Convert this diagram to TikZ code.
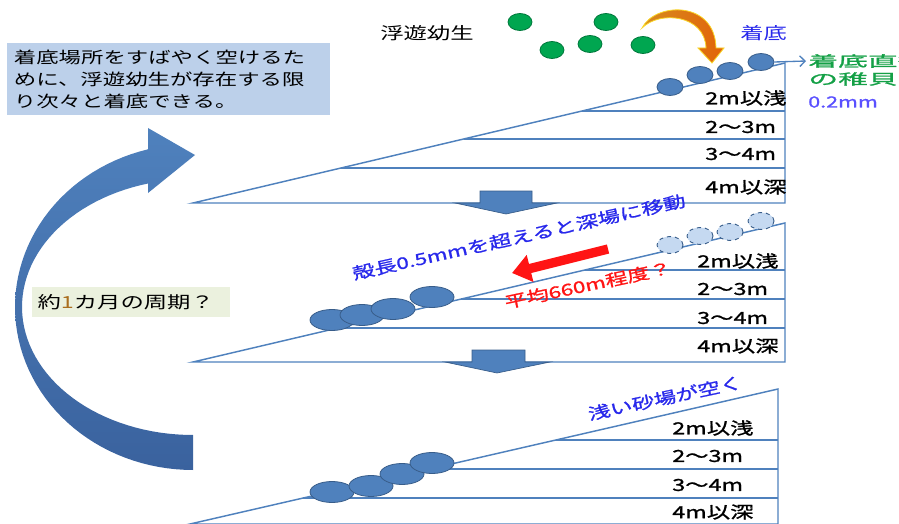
\documentclass[tikz,border=0pt]{standalone}
\usepackage{fontspec}
\newfontfamily\jp[FakeStretch=1.4]{Noto Sans CJK JP}
\newfontfamily\jpb[FakeStretch=1.4,FakeBold=1.2]{Noto Sans CJK JP}
\usetikzlibrary{arrows.meta,shapes.geometric}
\definecolor{lineblue}{RGB}{79,129,189}
\definecolor{shellfill}{RGB}{79,129,189}
\definecolor{shelledge}{RGB}{56,93,138}
\definecolor{lightshell}{RGB}{197,217,241}
\definecolor{boxblue}{RGB}{188,208,234}
\definecolor{boxgreen}{RGB}{235,241,222}
\definecolor{larvafill}{RGB}{0,166,80}
\definecolor{larvaedge}{RGB}{0,120,60}
\definecolor{txtblue}{RGB}{40,40,235}
\definecolor{txtgreen}{RGB}{20,160,70}
\definecolor{txtviolet}{RGB}{90,80,255}
\definecolor{txtred}{RGB}{255,20,20}
\definecolor{orangeA}{RGB}{214,140,30}
\definecolor{orangeB}{RGB}{226,100,10}
\definecolor{orangeedge}{RGB}{250,215,40}
\definecolor{bigtop}{RGB}{79,129,189}
\definecolor{bigbot}{RGB}{58,98,158}
\definecolor{onecol}{RGB}{170,110,30}
\begin{document}
\begin{tikzpicture}[x=0.75pt,y=-0.75pt,
  pline/.style={draw=lineblue,line width=1.1pt},
  larva/.style={ellipse,fill=larvafill,draw=larvaedge,line width=0.6pt,minimum width=18pt,minimum height=12.75pt,inner sep=0pt},
  spat/.style={ellipse,fill=shellfill,draw=shelledge,line width=0.6pt,minimum width=19.5pt,minimum height=12.75pt,inner sep=0pt},
  ghost/.style={ellipse,fill=lightshell,draw=shelledge,dashed,line width=0.7pt,minimum width=19.5pt,minimum height=12.75pt,inner sep=0pt},
  juv/.style={ellipse,fill=shellfill,draw=shelledge,line width=0.6pt,minimum width=33pt,minimum height=15.75pt,inner sep=0pt},
  depth/.style={anchor=west,inner sep=0pt,font=\jpb\fontsize{12.5}{14}\selectfont},
  downarrow/.style={fill=shellfill,draw=shelledge,line width=0.5pt},
  slanttext/.style={inner sep=0pt,font=\jpb\fontsize{12}{14}\selectfont}]
\useasboundingbox (0,0) rectangle (899,524);
\clip (0,0) rectangle (899,524);

% big cycle arrow
\shade[top color=bigtop,bottom color=bigbot]
  (193,435) -- plot[domain=90:254.8,samples=60,variable=\t] ({193+171*cos(\t)},{307+128*sin(\t)})
  -- (148,193) -- (195,155) -- (148,128) -- (148,149)
  -- plot[domain=255.3:90,samples=60,variable=\t] ({193+178*cos(\t)},{307+163*sin(\t)}) -- cycle;

% note boxes
\node[anchor=north west,fill=boxblue,minimum width=242pt,minimum height=54pt,inner xsep=5pt,inner ysep=3pt,
  text width=232pt,align=left,font=\jp\fontsize{12}{16.5}\selectfont] (note) at (7,43)
  {着底場所をすばやく空けるた\\めに、浮遊幼生が存在する限\\り次々と着底できる。};
\node[anchor=west,fill=boxgreen,minimum width=148.5pt,minimum height=22.5pt,inner xsep=4pt,
  text width=140.5pt,align=left,font=\jp\fontsize{12.5}{14}\selectfont] (period) at (32,302)
  {約{\color{onecol}1}カ月の周期？};

% panel 1
\draw[pline] (193,203) -- (785,63) -- (785,203) -- cycle;
\draw[pline] (582,111) -- (785,111) (464,139) -- (785,139) (341,168) -- (785,168);
\node[depth] (p1a) at (705,98) {2m以浅};
\node[depth] (p1b) at (705,127) {2～3m};
\node[depth] (p1c) at (705,154) {3～4m};
\node[depth] (p1d) at (705,187) {4m以深};

% panel 2
\draw[pline] (193,362) -- (785,223) -- (785,362) -- cycle;
\draw[pline] (585,270) -- (785,270) (461,299) -- (785,299) (338,328) -- (785,328);
\node[depth] (p2a) at (697,261) {2m以浅};
\node[depth] (p2b) at (697,289) {2～3m};
\node[depth] (p2c) at (697,318) {3～4m};
\node[depth] (p2d) at (697,346) {4m以深};

% panel 3
\draw[pline] (190,524) -- (778,389) -- (778,524) -- cycle;
\draw[pline] (556,440) -- (778,440) (430,469) -- (778,469) (303,498) -- (778,498);
\node[depth] (p3a) at (672,428) {2m以浅};
\node[depth] (p3b) at (672,456) {2～3m};
\node[depth] (p3c) at (672,485) {3～4m};
\node[depth] (p3d) at (672,512) {4m以深};

% down arrows
\filldraw[downarrow] (480,191) -- (532,191) -- (532,203) -- (557,203) -- (506,214) -- (455,203) -- (480,203) -- cycle;
\filldraw[downarrow] (472,350) -- (525,350) -- (525,362) -- (550,362) -- (497,373) -- (445,362) -- (472,362) -- cycle;

% larvae
\node[larva] (l1) at (520,22) {};
\node[larva] (l2) at (552,50) {};
\node[larva] (l3) at (590,44) {};
\node[larva] (l4) at (606,22) {};
\node[larva] (l5) at (643,45) {};
\node[anchor=west,inner sep=0pt,font=\jp\fontsize{12.5}{14}\selectfont] (plank) at (380,33) {浮遊幼生};

% settling arrow (crescent)
\shade[left color=orangeA,right color=orangeB,draw=orangeedge,line width=0.6pt]
  (642,28) .. controls (655,2) and (715,0) .. (716,48) -- (724,48) -- (712,63) -- (698,48) -- (706,48)
  .. controls (705,15) and (660,10) .. (642,28) -- cycle;
\node[anchor=west,inner sep=0pt,text=txtblue,font=\jp\fontsize{12.5}{14}\selectfont] (settle) at (740,33) {着底};

% settled spat
\node[spat] (s1) at (670,87) {};
\node[spat] (s2) at (700,75) {};
\node[spat] (s3) at (730,71) {};
\node[spat] (s4) at (761,62) {};
\coordinate (sp) at (806,61);
\draw[lineblue,line width=1pt,-{Straight Barb[length=4pt,width=8pt]}] (s4.east) -- (sp);
\node[anchor=west,inner sep=0pt,text=txtgreen,font=\jpb\fontsize{11}{13}\selectfont,xscale=1.45] (g1) at (808,61) {着底直後};
\node[anchor=west,inner sep=0pt,text=txtgreen,font=\jpb\fontsize{11}{13}\selectfont,xscale=1.45] (g2) at (808,79) {の稚貝};
\node[anchor=west,inner sep=0pt,text=txtviolet,font=\jpb\fontsize{11.5}{13}\selectfont] (g3) at (808,102) {0.2mm};

% panel 2 shells
\node[ghost] (d1) at (670,245) {};
\node[ghost] (d2) at (700,236) {};
\node[ghost] (d3) at (730,232) {};
\node[ghost] (d4) at (761,221) {};
\node[juv] (j1) at (332,320) {};
\node[juv] (j2) at (362,315) {};
\node[juv] (j3) at (393,309) {};
\node[juv] (j4) at (432,297) {};
\coordinate (ra) at (608,249);
\coordinate (rb) at (512,273);
\draw[txtred,line width=7pt,-{Triangle[length=14pt,width=20pt]}] (ra) -- (rb);
\node[slanttext,rotate=12.5,text=txtblue] (move) at (519,237) {殻長0.5mmを超えると深場に移動};
\node[slanttext,rotate=12,text=txtred] (dist) at (588,285) {平均660m程度？};

% panel 3 shells
\node[juv] (k1) at (332,492) {};
\node[juv] (k2) at (371,486) {};
\node[juv] (k3) at (402,474) {};
\node[juv] (k4) at (432,463) {};
\node[slanttext,rotate=12,text=txtblue] (open) at (665,398) {浅い砂場が空く};
\end{tikzpicture}
\end{document}
